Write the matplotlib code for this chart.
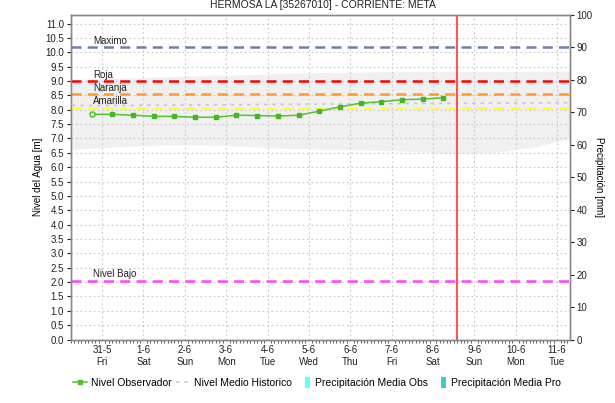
import numpy as np
import matplotlib
matplotlib.use('Agg')
import matplotlib.pyplot as plt
from matplotlib.lines import Line2D
from matplotlib.patches import Patch, Rectangle
from matplotlib.legend_handler import HandlerPatch

plt.rcParams['font.family'] = ['Liberation Sans', 'DejaVu Sans']

# days counted from 31-5 (0.0 = 31-5)
day_labels = ['31-5\nFri', '1-6\nSat', '2-6\nSun', '3-6\nMon', '4-6\nTue', '5-6\nWed',
              '6-6\nThu', '7-6\nFri', '8-6\nSat', '9-6\nSun', '10-6\nMon', '11-6\nTue']
day_pos = list(range(len(day_labels)))

# observed level, every 12 h from 30-5 18:00
obs_t = [-0.25, 0.25, 0.75, 1.25, 1.75, 2.25, 2.75, 3.25, 3.75, 4.25,
         4.75, 5.25, 5.75, 6.25, 6.75, 7.25, 7.75, 8.25]
obs_level = [7.84, 7.84, 7.81, 7.77, 7.77, 7.74, 7.74, 7.81, 7.80, 7.78,
             7.81, 7.95, 8.10, 8.23, 8.28, 8.35, 8.37, 8.42]

# historic envelope and mean
hist_t = [-0.72, 0.5, 1.5, 2.5, 3.5, 4.5, 5.5, 6.5, 7.5, 8.5, 9.5, 10.5, 11.3]
hist_max = [9.05, 9.10, 9.15, 9.20, 9.22, 9.27, 9.30, 9.32, 9.33, 9.33, 9.33, 9.34, 9.35]
hist_min = [6.62, 6.72, 6.78, 6.78, 6.72, 6.65, 6.62, 6.60, 6.55, 6.48, 6.52, 6.72, 7.00]
hist_mean = [8.15, 8.15, 8.16, 8.17, 8.18, 8.19, 8.20, 8.21, 8.22, 8.22, 8.23, 8.24, 8.25]

# alert thresholds
thr_names = ['Maximo', 'Roja', 'Naranja', 'Amarilla', 'Nivel Bajo']
thr_values = [10.18, 9.0, 8.55, 8.07, 2.05]
thr_colors = ['#6f7ea8', '#ff0000', '#ff9a2e', '#ffff33', '#ff44ff']

now_t = 8.57


class NarrowPatch(HandlerPatch):
    # thin upright swatch like the original legend
    def create_artists(self, legend, orig, xd, yd, width, height, fontsize, trans):
        w = height * 0.7
        r = Rectangle((-xd + width - w - 1, -yd - 1.5), w, height + 3,
                      facecolor=orig.get_facecolor(), edgecolor='none', transform=trans)
        return [r]


fig = plt.figure(figsize=(6.15, 4.03), dpi=100)
ax = fig.add_axes([71 / 615, 1 - 339.5 / 403, (569.5 - 71) / 615, (339.5 - 15) / 403])
ax2 = ax.twinx()

ax.fill_between(hist_t, hist_min, hist_max, color='#f0f0f0', lw=0, zorder=1)
for y in np.arange(0.5, 11.3, 0.5):
    ax.axhline(y, color='#c8c8c8', lw=0.8, ls=(0, (1.5, 2.5)), zorder=2)
for x in day_pos:
    ax.axvline(x, color='#c8c8c8', lw=0.8, ls=(0, (1.5, 2.5)), zorder=2)

ax.plot(hist_t, hist_mean, color='#c8c8c8', lw=1.2, ls=(0, (2, 3)), zorder=3)

for name, val, col in zip(thr_names, thr_values, thr_colors):
    ax.axhline(val, color=col, lw=1.8, ls=(0, (4, 2.5)), zorder=4)
    ax.text(-0.21, val + 0.05, name, fontsize=7, color='#222222', va='bottom', zorder=6)

ax.plot(obs_t, obs_level, color='#55c032', lw=1.1, marker='s', ms=2.8,
        mfc='#44b822', mec='#44b822', zorder=5)
ax.plot(obs_t[:1], obs_level[:1], ls='none', marker='o', ms=3.5, mfc='white',
        mec='#55c032', zorder=6)

ax.axvline(now_t, color='#ff3333', lw=1.2, zorder=6)

ax.set_xlim(-0.72, 11.3)
ax.set_ylim(0, 11.3)
ax.set_yticks(np.arange(0, 11.01, 0.5))
ax.set_yticklabels([f'{v:.1f}' for v in np.arange(0, 11.01, 0.5)])
ax.set_xticks(day_pos)
ax.set_xticklabels(day_labels)
ax.set_xticks(np.arange(-0.75, 11.3, 1 / 12), minor=True)
ax2.set_ylim(0, 100)
ax2.set_yticks(range(0, 101, 10))

for a in (ax, ax2):
    for s in a.spines.values():
        s.set_color('#888888')
        s.set_linewidth(1.0)
    a.tick_params(labelsize=7, colors='#222222', length=3, width=0.8, pad=2)
ax.tick_params(axis='x', length=0, pad=4)
ax.tick_params(axis='x', which='minor', length=2, width=0.6, color='#444444')

ax.set_ylabel('Nivel del Agua [m]', fontsize=7, labelpad=2)
ax2.set_ylabel('Precipitación [mm]', fontsize=7, rotation=270, labelpad=8)

fig.text(0.525, 0.999, 'HERMOSA LA [35267010] - CORRIENTE: META', ha='center', va='top',
         fontsize=7.5, color='#222222')

handles = [
    Line2D([], [], color='#55c032', lw=1.1, marker='s', ms=2.5),
    Line2D([], [], color='#c8c8c8', lw=1.2, ls=(0, (2, 3))),
    Patch(facecolor='#66ffff', edgecolor='none'),
    Patch(facecolor='#3fc8c8', edgecolor='none'),
]
labels = ['Nivel Observador', 'Nivel Medio Historico', 'Precipitación Media Obs',
          'Precipitación Media Pro']
fig.legend(handles, labels, loc='center', bbox_to_anchor=(0.515, 1 - 383 / 403),
           ncol=4, frameon=False, fontsize=7.5, handlelength=1.4, handletextpad=0.3,
           columnspacing=0.5, handler_map={Patch: NarrowPatch()})

fig.savefig('out.png', dpi=100)
